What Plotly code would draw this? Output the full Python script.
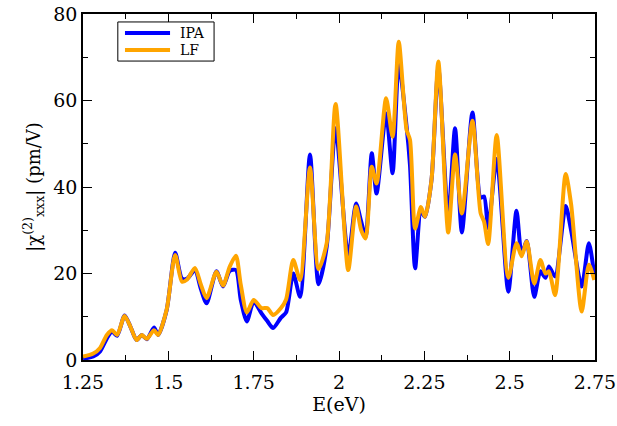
import plotly.graph_objects as go

energy = [1.25, 1.28, 1.30, 1.32, 1.335, 1.35, 1.372, 1.39, 1.407, 1.422, 1.437, 1.458, 1.47,
          1.495, 1.52, 1.54, 1.555, 1.578, 1.595, 1.612, 1.641, 1.66, 1.68, 1.698, 1.712, 1.73,
          1.75, 1.773, 1.79, 1.807, 1.83, 1.845, 1.866, 1.886, 1.915, 1.94, 1.964, 1.99, 2.027,
          2.05, 2.065, 2.078, 2.096, 2.11, 2.138, 2.157, 2.175, 2.198, 2.208, 2.223, 2.24, 2.252,
          2.271, 2.291, 2.32, 2.34, 2.36, 2.391, 2.415, 2.425, 2.437, 2.462, 2.496, 2.52, 2.535,
          2.55, 2.572, 2.59, 2.605, 2.615, 2.633, 2.664, 2.68, 2.711, 2.732, 2.748]

ipa = [0.3, 0.8, 2.0, 5.0, 6.6, 5.6, 10.3, 7.5, 4.6, 5.8, 4.8, 7.5, 5.8,
       11.5, 24.8, 18.8, 18.8, 20.8, 16.5, 13.1, 20.5, 17.0, 20.6, 20.8, 14.0, 8.9,
       13.5, 10.8, 9.0, 7.4, 9.8, 11.0, 20.0, 14.6, 47.5, 17.5, 26.2, 53.6, 24.0,
       36.2, 32.0, 28.5, 47.8, 38.5, 57.0, 43.2, 68.6, 54.0, 45.0, 21.2, 34.4, 33.1,
       41.6, 67.5, 33.1, 53.6, 29.5, 57.2, 37.5, 37.8, 30.5, 46.5, 15.8, 34.5, 24.5,
       27.5, 14.6, 20.5, 19.0, 21.6, 19.3, 35.6, 30.0, 17.0, 27.0, 19.5]

lf = [0.8, 1.5, 2.8, 5.8, 6.9, 5.8, 10.2, 7.5, 4.6, 5.8, 4.9, 6.9, 5.8,
      11.6, 24.3, 18.1, 18.6, 21.3, 17.5, 14.3, 20.4, 17.2, 21.6, 24.1, 17.5, 11.0,
      13.9, 12.0, 12.0, 10.4, 12.0, 14.0, 23.1, 18.5, 44.5, 21.0, 27.0, 59.2, 20.8,
      35.5, 30.0, 28.1, 44.7, 40.8, 60.5, 51.6, 73.6, 53.2, 50.9, 30.4, 35.4, 33.1,
      41.6, 69.0, 29.5, 47.5, 33.9, 55.3, 33.9, 32.0, 26.8, 52.0, 19.0, 27.0, 24.0,
      27.4, 17.7, 23.1, 20.0, 20.5, 15.0, 43.0, 36.0, 11.2, 22.0, 18.5]

series_names = ["IPA", "LF"]
series_colors = ["#0000FF", "#FFA500"]

x_ticks = [1.25, 1.5, 1.75, 2.0, 2.25, 2.5, 2.75]
x_labels = ["1.25", "1.5", "1.75", "2", "2.25", "2.5", "2.75"]
y_ticks = [0, 20, 40, 60, 80]

font_family = "DejaVu Serif"

fig = go.Figure()
for name, vals, col in zip(series_names, [ipa, lf], series_colors):
    fig.add_trace(go.Scatter(x=energy, y=vals, mode="lines", name=name, showlegend=False,
                             line=dict(color=col, width=4, shape="spline", smoothing=0.7)))

axis_common = dict(showline=True, linecolor="black", linewidth=1.5, mirror="ticks",
                   ticks="inside", ticklen=9, tickwidth=1.2, tickcolor="black",
                   showgrid=False, zeroline=False, automargin=False, ticklabeloverflow="allow",
                   tickfont=dict(family=font_family, size=19, color="black"))

fig.update_xaxes(range=[1.25, 2.75], tickvals=x_ticks, ticktext=x_labels,
                 ticklabelstandoff=4,
                 minor=dict(ticks="inside", ticklen=5, tickwidth=1.2, tickcolor="black", dtick=0.125),
                 title=dict(text="E(eV)", font=dict(family=font_family, size=19, color="black"),
                            standoff=0),
                 **axis_common)
fig.update_yaxes(range=[0, 80], tickvals=y_ticks,
                 minor=dict(ticks="inside", ticklen=5, tickwidth=1.2, tickcolor="black", dtick=10),
                 title=dict(text="|χ<sup>(2)</sup><sub>xxx</sub>| (pm/V)",
                            font=dict(family=font_family, size=18, color="black"), standoff=8),
                 **axis_common)

# legend box drawn in paper coordinates
leg_x0, leg_x1, leg_y0, leg_y1 = 0.068, 0.256, 0.864, 0.977
line_x0, line_x1, text_x = 0.082, 0.170, 0.186
row_y = [0.945, 0.896]
shapes = [dict(type="rect", xref="paper", yref="paper", x0=leg_x0, x1=leg_x1, y0=leg_y0, y1=leg_y1,
               line=dict(color="black", width=1), fillcolor="white", layer="above")]
annotations = []
for name, col, ry in zip(series_names, series_colors, row_y):
    shapes.append(dict(type="line", xref="paper", yref="paper", x0=line_x0, x1=line_x1, y0=ry, y1=ry,
                       line=dict(color=col, width=4), layer="above"))
    annotations.append(dict(text=name, xref="paper", yref="paper", x=text_x, y=ry, xanchor="left",
                            yanchor="middle", showarrow=False,
                            font=dict(family=font_family, size=14, color="black")))

fig.update_layout(
    width=617, height=426,
    margin=dict(l=83, r=22, t=14, b=66),
    paper_bgcolor="white", plot_bgcolor="white",
    showlegend=False,
    shapes=shapes,
    annotations=annotations,
)

fig.write_html("out.html", config={"displayModeBar": False},
               post_script="document.body.style.margin='0';")
